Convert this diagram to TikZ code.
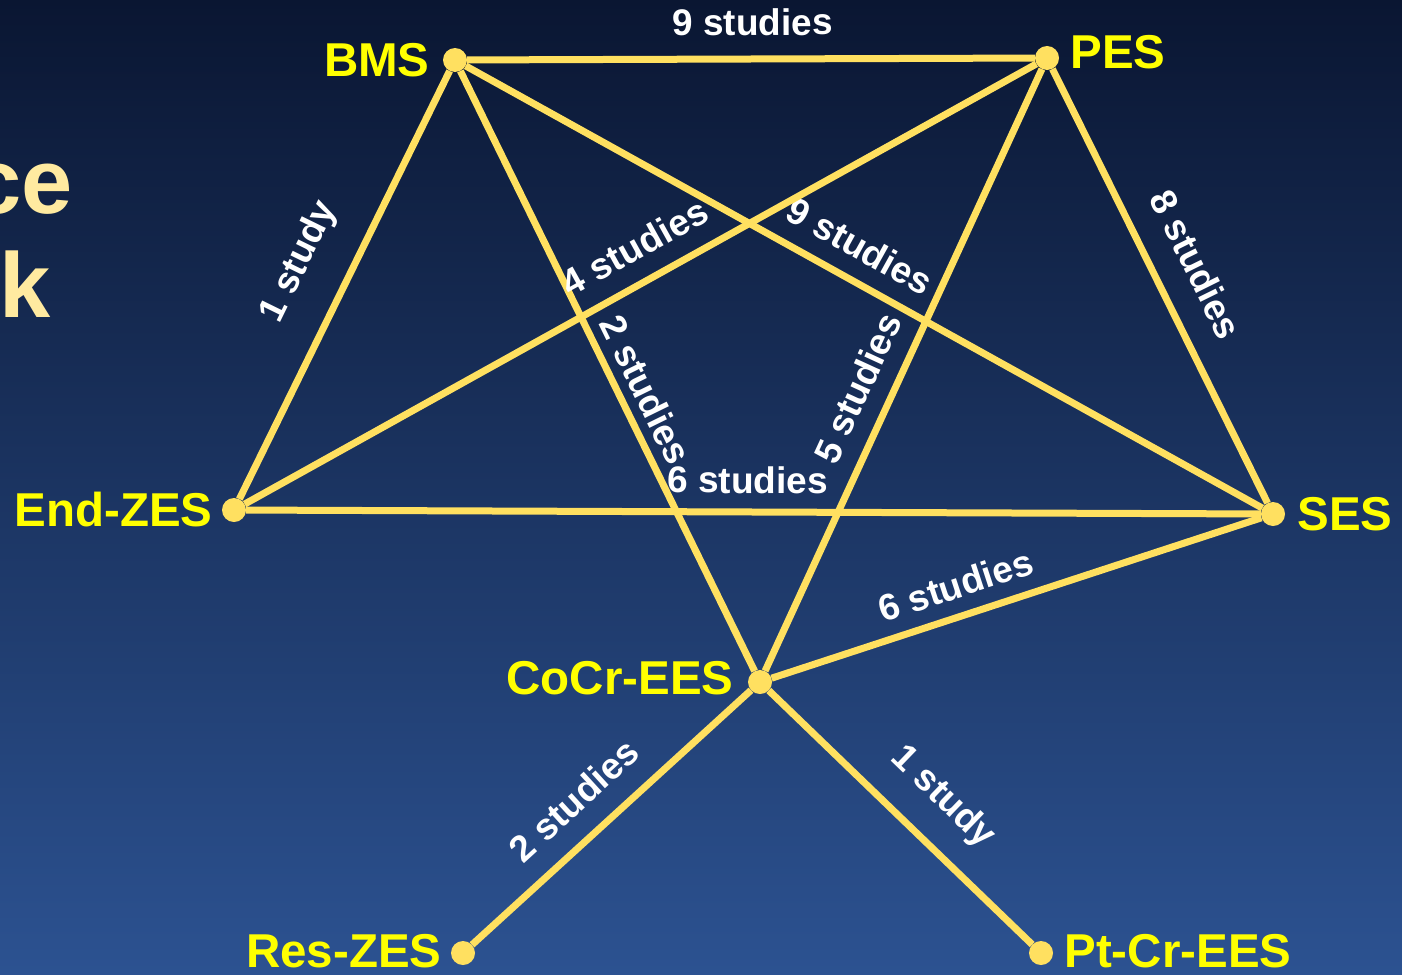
\documentclass[tikz,border=0pt]{standalone}
\usepackage{fontspec}
\setmainfont{Liberation Sans}
\definecolor{linecol}{RGB}{255,224,96}
\definecolor{nodecol}{RGB}{255,255,0}
\definecolor{cream}{RGB}{255,234,160}
\definecolor{bgtop}{RGB}{10,22,50}
\definecolor{bgbot}{RGB}{44,82,145}
\tikzset{
  dotnode/.style={circle, fill=linecol, minimum size=24pt, inner sep=0pt},
  link/.style={draw=linecol, line width=7pt},
  nlab/.style={text=nodecol, font=\bfseries\fontsize{47.5}{50}\selectfont, inner sep=0pt},
  elab/.style={text=white, font=\bfseries\fontsize{37}{40}\selectfont, inner sep=0pt, sloped},
  ttl/.style={text=cream, font=\bfseries\fontsize{92}{96}\selectfont, inner sep=0pt, anchor=base east},
}
\begin{document}
\begin{tikzpicture}[x=1pt, y=-1pt]
  \useasboundingbox (0,0) rectangle (1402,974);
  \shade[top color=bgtop, bottom color=bgbot] (0,0) rectangle (1402,974);

  \node[ttl] (t1) at (73,213) {ce};
  \node[ttl] (t2) at (51,317) {k};

  \node[dotnode, label={[nlab, label distance=13pt]left:BMS}] (bms) at (455,60) {};
  \node[dotnode, label={[nlab, label distance=11pt, yshift=6pt]right:PES}] (pes) at (1047,58) {};
  \node[dotnode, label={[nlab, label distance=9pt]left:End-ZES}] (endz) at (234,510) {};
  \node[dotnode, label={[nlab, label distance=12pt]right:SES}] (ses) at (1273,514) {};
  \node[dotnode, label={[nlab, label distance=14pt, yshift=4pt]left:CoCr-EES}] (cocr) at (760,682) {};
  \node[dotnode, label={[nlab, label distance=9pt, yshift=2pt]left:Res-ZES}] (res) at (463,953) {};
  \node[dotnode, label={[nlab, label distance=11pt, yshift=2pt]right:Pt-Cr-EES}] (ptcr) at (1041,953) {};

  \draw[link] (bms) -- node[elab, pos=0.503, above=20pt] {9 studies} (pes);
  \draw[link] (endz) -- node[elab, pos=0.502, above=30pt] {1 study} (bms);
  \draw[link] (bms) -- node[elab, pos=0.55, above=9pt] {2 studies} (cocr);
  \draw[link] (bms) -- node[elab, pos=0.474, above=17pt] {9 studies} (ses);
  \draw[link] (endz) -- node[elab, pos=0.514, above=18pt] {4 studies} (pes);
  \draw[link] (pes) -- node[elab, pos=0.493, above=25pt] {8 studies} (ses);
  \draw[link] (cocr) -- node[elab, pos=0.446, above=17pt] {5 studies} (pes);
  \draw[link] (endz) -- node[elab, pos=0.494, above=15pt] {6 studies} (ses);
  \draw[link] (cocr) -- node[elab, pos=0.395, above=14pt] {6 studies} (ses);
  \draw[link] (res) -- node[elab, pos=0.457, above=21pt] {2 studies} (cocr);
  \draw[link] (cocr) -- node[elab, pos=0.545, above=23pt] {1 study} (ptcr);
\end{tikzpicture}
\end{document}
